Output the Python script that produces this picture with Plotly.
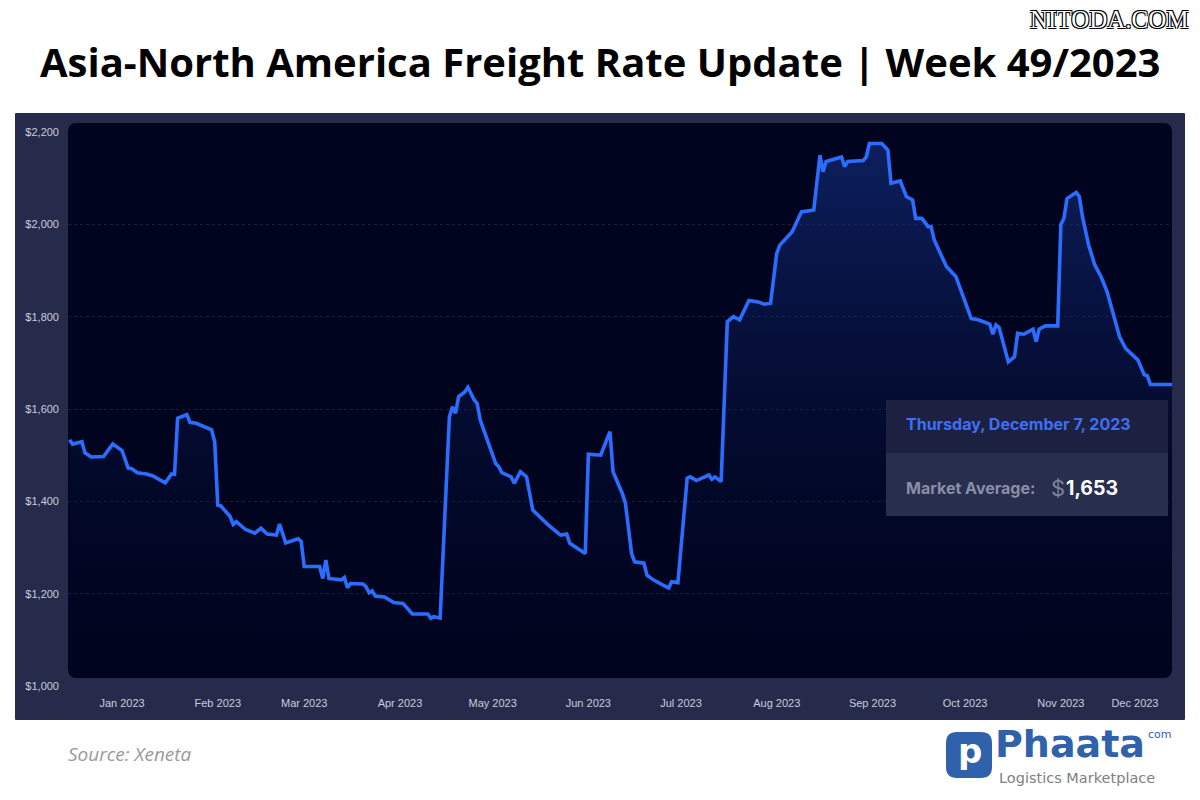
import plotly.graph_objects as go

dates = [
    "2022-12-15", "2022-12-16", "2022-12-19", "2022-12-20", "2022-12-22", "2022-12-26", "2022-12-29",
    "2023-01-01", "2023-01-03", "2023-01-04", "2023-01-06", "2023-01-09", "2023-01-11", "2023-01-15",
    "2023-01-17", "2023-01-18", "2023-01-19", "2023-01-22", "2023-01-23", "2023-01-25", "2023-01-30",
    "2023-01-31", "2023-02-01", "2023-02-02", "2023-02-05", "2023-02-06", "2023-02-07", "2023-02-10",
    "2023-02-13", "2023-02-15", "2023-02-17", "2023-02-20", "2023-02-21", "2023-02-23", "2023-02-27",
    "2023-02-28", "2023-03-01", "2023-03-06", "2023-03-07", "2023-03-08", "2023-03-09", "2023-03-13",
    "2023-03-14", "2023-03-15", "2023-03-16", "2023-03-20", "2023-03-21", "2023-03-22", "2023-03-23",
    "2023-03-24", "2023-03-27", "2023-03-30", "2023-04-02", "2023-04-03", "2023-04-05", "2023-04-10",
    "2023-04-11", "2023-04-12", "2023-04-14", "2023-04-17", "2023-04-18", "2023-04-19", "2023-04-20",
    "2023-04-22", "2023-04-23", "2023-04-25", "2023-04-26", "2023-04-27", "2023-04-29", "2023-05-02",
    "2023-05-03", "2023-05-04", "2023-05-07", "2023-05-08", "2023-05-10", "2023-05-12", "2023-05-14",
    "2023-05-19", "2023-05-23", "2023-05-25", "2023-05-26", "2023-05-31", "2023-06-01", "2023-06-05",
    "2023-06-08", "2023-06-09", "2023-06-12", "2023-06-13", "2023-06-15", "2023-06-16", "2023-06-19",
    "2023-06-20", "2023-06-22", "2023-06-26", "2023-06-27", "2023-06-28", "2023-06-30", "2023-07-03",
    "2023-07-04", "2023-07-06", "2023-07-10", "2023-07-11", "2023-07-12", "2023-07-14", "2023-07-16",
    "2023-07-18", "2023-07-20", "2023-07-23", "2023-07-26", "2023-07-28", "2023-07-30", "2023-08-01",
    "2023-08-02", "2023-08-06", "2023-08-09", "2023-08-12", "2023-08-13", "2023-08-15", "2023-08-16",
    "2023-08-17", "2023-08-22", "2023-08-23", "2023-08-24", "2023-08-29", "2023-08-30", "2023-08-31",
    "2023-09-04", "2023-09-06", "2023-09-07", "2023-09-10", "2023-09-12", "2023-09-14", "2023-09-15",
    "2023-09-17", "2023-09-19", "2023-09-20", "2023-09-21", "2023-09-25", "2023-09-28", "2023-10-03",
    "2023-10-05", "2023-10-09", "2023-10-10", "2023-10-11", "2023-10-12", "2023-10-15", "2023-10-17",
    "2023-10-18", "2023-10-20", "2023-10-23", "2023-10-24", "2023-10-25", "2023-10-27", "2023-10-31",
    "2023-11-01", "2023-11-02", "2023-11-03", "2023-11-06", "2023-11-07", "2023-11-08", "2023-11-10",
    "2023-11-12", "2023-11-14", "2023-11-16", "2023-11-20", "2023-11-22", "2023-11-26", "2023-11-28",
    "2023-11-29", "2023-11-30", "2023-12-07",
]

rates = [
    1533, 1524, 1529, 1505, 1496, 1497, 1524,
    1510, 1472, 1471, 1462, 1459, 1455, 1440,
    1459, 1459, 1580, 1588, 1571, 1569, 1555,
    1529, 1392, 1390, 1367, 1350, 1356, 1339,
    1331, 1342, 1329, 1327, 1351, 1310, 1319,
    1313, 1259, 1259, 1233, 1273, 1233, 1230,
    1235, 1213, 1222, 1221, 1215, 1202, 1206,
    1195, 1193, 1181, 1179, 1172, 1156, 1156,
    1147, 1150, 1147, 1583, 1605, 1591, 1627,
    1637, 1647, 1620, 1612, 1576, 1540, 1482,
    1475, 1462, 1453, 1439, 1464, 1453, 1381,
    1349, 1327, 1329, 1309, 1287, 1502, 1500,
    1551, 1464, 1417, 1396, 1287, 1269, 1266,
    1240, 1230, 1217, 1212, 1226, 1224, 1450,
    1453, 1445, 1457, 1448, 1453, 1443, 1789,
    1800, 1793, 1835, 1832, 1827, 1829, 1937,
    1955, 1984, 2027, 2030, 2031, 2150, 2114,
    2136, 2146, 2125, 2136, 2138, 2146, 2175,
    2175, 2161, 2089, 2094, 2060, 2053, 2013,
    2013, 1995, 1995, 1966, 1908, 1887, 1796,
    1794, 1784, 1762, 1782, 1777, 1702, 1713,
    1764, 1762, 1773, 1746, 1773, 1780, 1780,
    1999, 2013, 2056, 2069, 2060, 2017, 1955,
    1912, 1887, 1854, 1757, 1731, 1706, 1674,
    1672, 1653, 1653,
]

x_tick_dates = ["2023-01-01", "2023-02-01", "2023-03-01", "2023-04-01", "2023-05-01", "2023-06-01",
                "2023-07-01", "2023-08-01", "2023-09-01", "2023-10-01", "2023-11-01", "2023-11-25"]
x_tick_labels = ["Jan 2023", "Feb 2023", "Mar 2023", "Apr 2023", "May 2023", "Jun 2023",
                 "Jul 2023", "Aug 2023", "Sep 2023", "Oct 2023", "Nov 2023", "Dec 2023"]
y_tick_vals = [1000, 1200, 1400, 1600, 1800, 2000, 2200]
y_tick_labels = ["$1,000", "$1,200", "$1,400", "$1,600", "$1,800", "$2,000", "$2,200"]

tooltip_date = "Thursday, December 7, 2023"
tooltip_value = "1,653"

W, H = 1200, 800
L, R, T, B = 68, 28, 132, 114
pw, ph = W - L - R, H - T - B


def px(xp):
    return (xp - L) / pw


def py(yp):
    return (H - B - yp) / ph


fig = go.Figure()
fig.add_trace(go.Scatter(
    x=dates, y=rates, mode="lines",
    line=dict(color="#2b6dff", width=3.6),
    fill="tozeroy",
    fillgradient=dict(type="vertical", start=1000, stop=2200,
                      colorscale=[[0, "rgba(0,8,40,0.0)"], [1, "rgba(25,55,150,0.55)"]]),
    hoverinfo="skip", showlegend=False,
))


def rounded_path(w, h, r):
    hw, hh = w / 2, h / 2
    return (f"M {-hw + r},{-hh} L {hw - r},{-hh} Q {hw},{-hh} {hw},{-hh + r} "
            f"L {hw},{hh - r} Q {hw},{hh} {hw - r},{hh} L {-hw + r},{hh} "
            f"Q {-hw},{hh} {-hw},{hh - r} L {-hw},{-hh + r} Q {-hw},{-hh} {-hw + r},{-hh} Z")


shapes = []
# outer panel
shapes.append(dict(type="path", xref="paper", yref="paper", xsizemode="pixel", ysizemode="pixel",
                   xanchor=px(600), yanchor=py(416.5), path=rounded_path(1170, 607, 1),
                   fillcolor="#262b4b", line=dict(width=0), layer="below"))
# inner plot area
shapes.append(dict(type="path", xref="paper", yref="paper", xsizemode="pixel", ysizemode="pixel",
                   xanchor=px(620), yanchor=py(400.5), path=rounded_path(1104, 555, 9),
                   fillcolor="#00041f", line=dict(width=0), layer="below"))
# tooltip box
shapes.append(dict(type="rect", xref="paper", yref="paper", x0=px(886), x1=px(1168), y0=py(453), y1=py(400),
                   fillcolor="#1c2142", line=dict(width=0), layer="above"))
shapes.append(dict(type="rect", xref="paper", yref="paper", x0=px(886), x1=px(1168), y0=py(516), y1=py(453),
                   fillcolor="#282e4e", line=dict(width=0), layer="above"))
# logo icon
shapes.append(dict(type="path", xref="paper", yref="paper", xsizemode="pixel", ysizemode="pixel",
                   xanchor=px(969), yanchor=py(755), path=rounded_path(46, 46, 11),
                   fillcolor="#2f62ab", line=dict(width=0), layer="above"))

annotations = [
    dict(text="<b>Asia-North America Freight Rate Update | Week 49/2023</b>", x=px(600), y=py(62),
         xref="paper", yref="paper", showarrow=False, xanchor="center", yanchor="middle",
         font=dict(family="Open Sans", size=40, color="#000000")),
    dict(text="NITODA.COM", x=px(1191), y=py(19.5), xref="paper", yref="paper", showarrow=False,
         xanchor="right", yanchor="middle",
         font=dict(family="Liberation Serif", size=25, color="#ffffff",
                   shadow="1px 1px 0 #000, -1px -1px 0 #000, 1px -1px 0 #000, -1px 1px 0 #000")),
    dict(text="<i>Source: Xeneta</i>", x=px(66), y=py(754), xref="paper", yref="paper", showarrow=False,
         xanchor="left", yanchor="middle", font=dict(family="Open Sans", size=19, color="#9a9a9a")),
    dict(text=f"<b>{tooltip_date}</b>", x=px(904), y=py(424), xref="paper", yref="paper", showarrow=False,
         xanchor="left", yanchor="middle", font=dict(family="Inter", size=16, color="#3f6ff2")),
    dict(text="<b>Market Average:</b>", x=px(904), y=py(488), xref="paper", yref="paper", showarrow=False,
         xanchor="left", yanchor="middle", font=dict(family="Inter", size=16, color="#8a8ea6")),
    dict(text="$", x=px(1049), y=py(488), xref="paper", yref="paper", showarrow=False,
         xanchor="left", yanchor="middle", font=dict(family="Inter", size=22, color="#7e8298")),
    dict(text=f"<b>{tooltip_value}</b>", x=px(1064), y=py(488), xref="paper", yref="paper", showarrow=False,
         xanchor="left", yanchor="middle", font=dict(family="Inter", size=19.5, color="#ffffff")),
    dict(text="<b>p</b>", x=px(970), y=py(751), xref="paper", yref="paper", showarrow=False,
         xanchor="center", yanchor="middle", font=dict(family="DejaVu Sans", size=34, color="#ffffff")),
    dict(text="<b>Phaata</b>", x=px(993), y=py(768), xref="paper", yref="paper", showarrow=False,
         xanchor="left", yanchor="bottom", font=dict(family="DejaVu Sans", size=38, color="#2f62ab")),
    dict(text="com", x=px(1146), y=py(734), xref="paper", yref="paper", showarrow=False,
         xanchor="left", yanchor="middle", font=dict(family="DejaVu Sans", size=11, color="#2f62ab")),
    dict(text="Logistics Marketplace", x=px(997), y=py(768), xref="paper", yref="paper", showarrow=False,
         xanchor="left", yanchor="top", font=dict(family="DejaVu Sans", size=14.5, color="#808080")),
]

fig.update_layout(
    width=W, height=H,
    margin=dict(l=L, r=R, t=T, b=B, pad=0),
    paper_bgcolor="#ffffff",
    plot_bgcolor="rgba(0,0,0,0)",
    shapes=shapes,
    annotations=annotations,
    hovermode=False,
    xaxis=dict(
        type="date", range=["2022-12-14 12:00", "2023-12-07"],
        tickvals=x_tick_dates, ticktext=x_tick_labels,
        showgrid=False, zeroline=False, showline=False, ticks="",
        ticklabelstandoff=9,
        tickfont=dict(family="Liberation Sans", size=11, color="#c9cddb"),
    ),
    yaxis=dict(
        range=[1000, 2200], tickvals=y_tick_vals, ticktext=y_tick_labels,
        showgrid=True, gridcolor="rgba(95,105,150,0.28)", griddash="dot", gridwidth=1,
        zeroline=False, showline=False, ticks="",
        ticklabelstandoff=8,
        tickfont=dict(family="Liberation Sans", size=11, color="#c9cddb"),
    ),
)

fig.write_html("out.html", config={"displayModeBar": False},
               post_script="document.body.style.margin='0';")
